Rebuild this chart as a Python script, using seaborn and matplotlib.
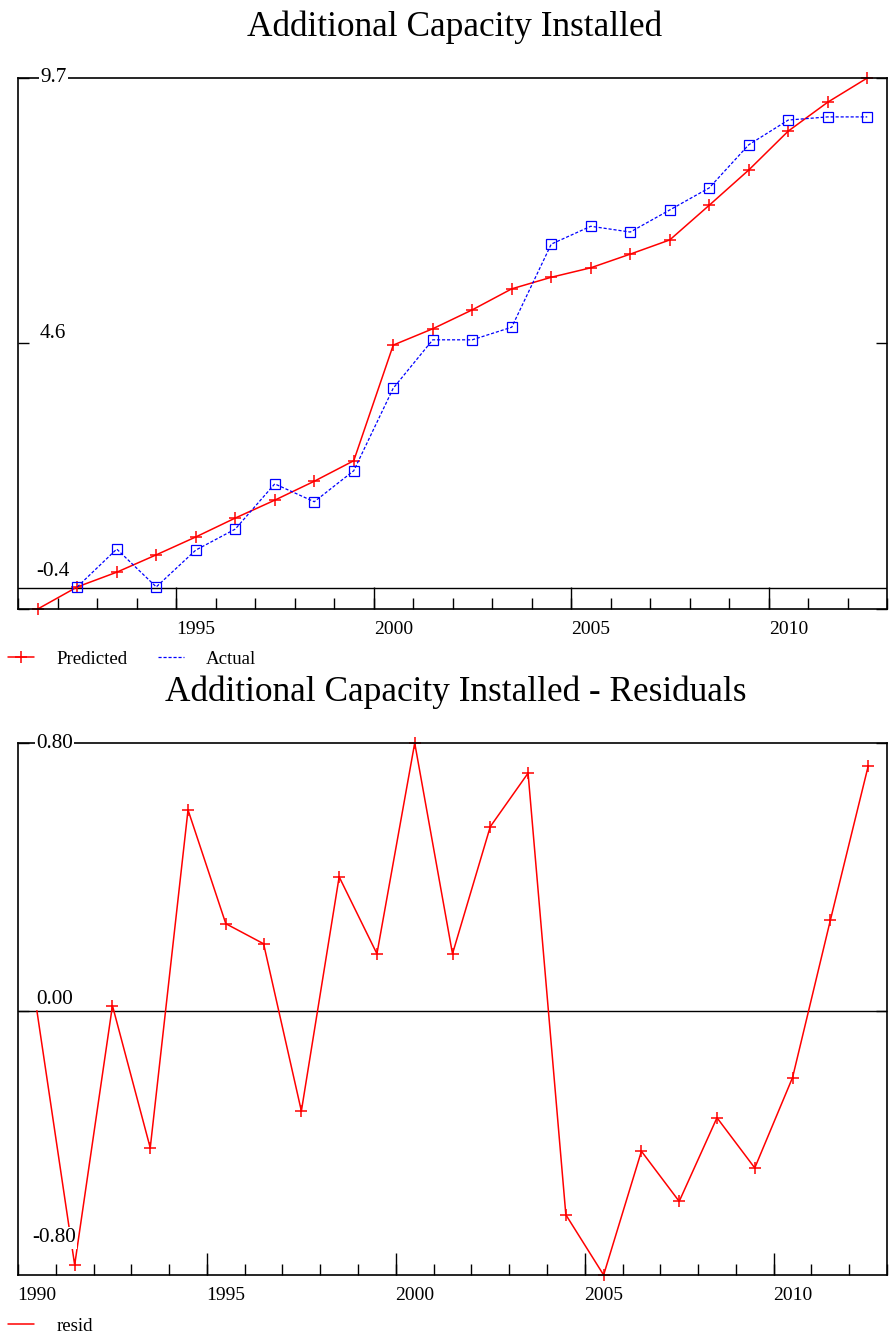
import numpy as np
import matplotlib
matplotlib.use("Agg")
import matplotlib.pyplot as plt
from matplotlib.lines import Line2D
import seaborn as sns

# ---------------- data ----------------
years_top = list(range(1991, 2013))
predicted = [-0.40, 0.02, 0.30, 0.63, 0.97, 1.33, 1.67, 2.03, 2.42, 4.62, 4.93,
             5.29, 5.69, 5.91, 6.09, 6.35, 6.62, 7.28, 7.95, 8.69, 9.24, 9.70]
years_actual = list(range(1992, 2013))
actual = [0.02, 0.74, 0.02, 0.72, 1.12, 1.98, 1.64, 2.23, 3.80, 4.72, 4.72,
          4.96, 6.54, 6.88, 6.77, 7.19, 7.61, 8.43, 8.90, 8.96, 8.96]
years_resid = list(range(1990, 2013))
resid = [0.00, -0.76, 0.015, -0.41, 0.60, 0.26, 0.20, -0.30, 0.40, 0.17, 0.80,
         0.17, 0.55, 0.71, -0.61, -0.79, -0.42, -0.57, -0.32, -0.47, -0.20, 0.27, 0.73]
top_ylabels = ["-0.4", "4.6", "9.7"]
top_yvals = [-0.4, 4.65, 9.7]
bot_ylabels = ["-0.80", "0.00", "0.80"]
bot_yvals = [-0.80, 0.00, 0.80]
major_years = [1990, 1995, 2000, 2005, 2010]

# ---------------- style ----------------
sns.set_style("white")
plt.rcParams["font.family"] = ["Liberation Serif", "DejaVu Serif"]
plt.rcParams["text.color"] = "black"
plt.rcParams["xtick.color"] = "black"
plt.rcParams["ytick.color"] = "black"
plt.rcParams["axes.edgecolor"] = "black"
plt.rcParams["axes.linewidth"] = 1.2

W, H = 892, 1336
fig = plt.figure(figsize=(W / 100, H / 100), dpi=100)

def fx(px):
    return px / W

def fy(py):
    return 1 - py / H

ax1 = fig.add_axes([fx(18), fy(609), fx(887) - fx(18), fy(78) - fy(609)])
ax2 = fig.add_axes([fx(18), fy(1275), fx(887) - fx(18), fy(743) - fy(1275)])

# ---------------- top chart ----------------
sns.lineplot(x=np.array(years_top) + 0.5, y=predicted, ax=ax1, color="red",
             marker="+", markersize=9, markeredgewidth=1.1,
             markeredgecolor="red", linewidth=1.1, legend=False, clip_on=False)
sns.lineplot(x=np.array(years_actual) + 0.5, y=actual, ax=ax1, color="blue",
             marker="s", markersize=6.5, markerfacecolor="none",
             markeredgecolor="blue", markeredgewidth=0.9, linewidth=0.9,
             linestyle=(0, (2.5, 1.5)), legend=False, clip_on=False)
ax1.axhline(0, color="black", linewidth=1.0, zorder=1)
ax1.set_xlim(1991, 2013)
ax1.set_ylim(-0.4, 9.7)

# ---------------- bottom chart ----------------
sns.lineplot(x=np.array(years_resid) + 0.5, y=resid, ax=ax2, color="red",
             marker="+", markersize=9, markeredgewidth=1.1,
             markeredgecolor="red", linewidth=1.1,
             markevery=list(range(1, len(resid))), legend=False, clip_on=False)
ax2.axhline(0, color="black", linewidth=1.0, zorder=1)
ax2.set_xlim(1990, 2013)
ax2.set_ylim(-0.79, 0.80)

def style_axis(ax, x0, x1, yticks):
    yrs = list(range(x0, x1 + 1))
    maj = [y for y in major_years if x0 < y < x1]
    ax.set_xticks([y + 0.5 for y in [m for m in major_years if x0 <= m < x1]])
    ax.set_xticklabels([str(y) for y in major_years if x0 <= y < x1], fontsize=14)
    ax.set_xticks(yrs, minor=True)
    ax.tick_params(axis="x", which="major", length=0, pad=9)
    ax.tick_params(axis="x", which="minor", direction="in", length=8,
                   width=1.0, color="black", bottom=True)
    sec = ax.secondary_xaxis("bottom")
    sec.set_xticks(maj)
    sec.set_xticklabels([])
    sec.tick_params(direction="in", length=16, width=1.0, color="black")
    sec.spines["bottom"].set_visible(False)
    ax.set_yticks(yticks)
    ax.set_yticklabels([])
    ax.tick_params(axis="y", which="major", direction="in", length=8,
                   width=1.0, color="black", left=True, right=True)
    ax.set_xlabel("")
    ax.set_ylabel("")
    for s in ax.spines.values():
        s.set_visible(True)
        s.set_color("black")
        s.set_linewidth(1.2)

style_axis(ax1, 1991, 2013, top_yvals)
style_axis(ax2, 1990, 2013, [0.0, 0.8])

# y value labels drawn inside the axes (pixel positions)
def ylabel_text(label, px, py):
    fig.text(fx(px), fy(py), label, fontsize=15.3, ha="left", va="center",
             bbox=dict(facecolor="white", edgecolor="none", pad=1.0), zorder=10)

ylabel_text(top_ylabels[2], 40, 78)
ylabel_text(top_ylabels[1], 40, 334)
ylabel_text(top_ylabels[0], 36, 572)
ylabel_text(bot_ylabels[2], 36, 744)
ylabel_text(bot_ylabels[1], 36, 999)
ylabel_text(bot_ylabels[0], 32, 1238)

# ---------------- titles ----------------
fig.text(fx(455), fy(27), "Additional Capacity Installed", fontsize=25.4,
         ha="center", va="center")
fig.text(fx(456), fy(692), "Additional Capacity Installed - Residuals",
         fontsize=25.4, ha="center", va="center")

# ---------------- legends ----------------
h_pred = Line2D([], [], color="red", marker="+", markersize=9,
                markeredgewidth=1.1, linewidth=1.1)
h_act = Line2D([], [], color="blue", linewidth=0.9, linestyle=(0, (2.5, 1.5)))
fig.legend([h_pred, h_act], ["Predicted", "Actual"], loc="center left",
           bbox_to_anchor=(fx(8), fy(659)), ncol=2, frameon=False,
           fontsize=13.6, handlelength=1.4, handletextpad=1.15,
           columnspacing=1.6, borderaxespad=0, borderpad=0)
h_res = Line2D([], [], color="red", linewidth=1.1)
fig.legend([h_res], ["resid"], loc="center left",
           bbox_to_anchor=(fx(8), fy(1326)), frameon=False, fontsize=13.6,
           handlelength=1.4, handletextpad=1.15, borderaxespad=0, borderpad=0)

fig.savefig("out.png", dpi=100)
